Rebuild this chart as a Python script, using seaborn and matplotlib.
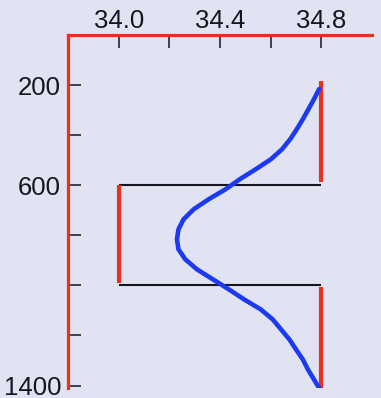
import matplotlib
matplotlib.use("Agg")
import matplotlib.pyplot as plt
import seaborn as sns
import pandas as pd

# Salinity profile (blue curve): depth in m, salinity in psu
curve_depth = [216, 256, 296, 336, 376, 416, 456, 496, 536, 576,
               616, 656, 696, 736, 776, 816, 856, 896, 936, 976,
               1016, 1056, 1096, 1136, 1176, 1216, 1256, 1296, 1336, 1376, 1410]
curve_salinity = [34.791, 34.771, 34.749, 34.727, 34.703, 34.677, 34.645, 34.601, 34.541, 34.478,
                  34.422, 34.355, 34.296, 34.256, 34.236, 34.230, 34.236, 34.263, 34.309, 34.372,
                  34.435, 34.495, 34.561, 34.608, 34.641, 34.674, 34.700, 34.727, 34.747, 34.771, 34.791]

# Three-layer step model (red): layer salinity and depth range
layer_salinity = [34.8, 34.0, 34.8]
layer_top = [185, 598, 1006]
layer_bottom = [588, 992, 1410]

# Layer interfaces (black)
interface_depth = [600, 1000]
interface_from = 34.0
interface_to = 34.8

x_ticks = [34.0, 34.2, 34.4, 34.6, 34.8]
x_labels = ["34.0", "", "34.4", "", "34.8"]
y_ticks = [200, 400, 600, 800, 1000, 1200, 1400]
y_labels = ["200", "", "600", "", "", "", "1400"]

bg = "#e1e3f2"
red = "#e8311d"
blue = "#1c3af2"
ink = "#161620"

sns.set_theme(style="white")
plt.rcParams["font.family"] = ["Liberation Sans", "DejaVu Sans"]

fig = plt.figure(figsize=(3.81, 3.98), dpi=100, facecolor=bg)
ax = fig.add_axes([0.1785, 0.025, 0.798, 0.887], facecolor=bg)

# interfaces
ax.hlines(interface_depth, interface_from, interface_to, color=ink, lw=1.5, zorder=2)

# step layers
ax.vlines(layer_salinity, layer_top, layer_bottom, color=red, lw=3.0, zorder=3)

# smooth profile
prof = pd.DataFrame({"salinity": curve_salinity, "depth": curve_depth})
sns.lineplot(data=prof, x="salinity", y="depth", orient="y", sort=False,
             color=blue, lw=3.3, solid_joinstyle="round", solid_capstyle="round",
             ax=ax, zorder=4)

ax.set_xlim(33.8, 35.0)
ax.set_ylim(1410, 0)
ax.set_xlabel("")
ax.set_ylabel("")

ax.xaxis.tick_top()
ax.set_xticks(x_ticks)
ax.set_xticklabels(x_labels)
ax.set_yticks(y_ticks)
ax.set_yticklabels(y_labels)
ax.tick_params(axis="both", direction="in", length=9.5, width=1.1, color=ink,
               labelsize=18.5, labelcolor=ink,
               top=True, left=True, bottom=False, right=False,
               labeltop=True, labelleft=True, labelbottom=False, labelright=False)
ax.tick_params(axis="x", pad=1.5)
ax.tick_params(axis="y", pad=5)

for side in ["right", "bottom"]:
    ax.spines[side].set_visible(False)
for side in ["top", "left"]:
    ax.spines[side].set_visible(True)
    ax.spines[side].set_color(red)
    ax.spines[side].set_linewidth(2.3)
    ax.spines[side].set_zorder(5)
ax.grid(False)

fig.savefig("out.png", dpi=100, facecolor=bg)
